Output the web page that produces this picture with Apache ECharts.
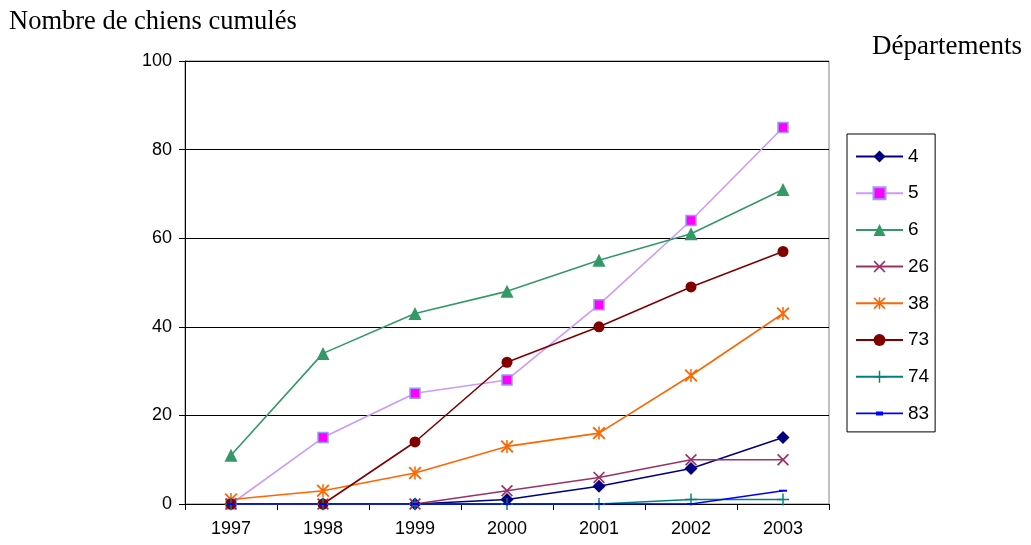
<!DOCTYPE html>
<html>
<head>
<meta charset="utf-8">
<script src="https://cdn.jsdelivr.net/npm/echarts@6/dist/echarts.min.js"></script>
<style>
  html, body { margin: 0; padding: 0; background: #fff; }
  #chart { width: 1031px; height: 545px; }
</style>
</head>
<body>
<div id="chart"></div>
<script>
// Cumulative number of dogs per department, 1997-2003
const years = ['1997', '1998', '1999', '2000', '2001', '2002', '2003'];
const dept4  = [0, 0, 0, 1, 4, 8, 15];
const dept5  = [0, 15, 25, 28, 45, 64, 85];
const dept6  = [11, 34, 43, 48, 55, 61, 71];
const dept26 = [0, 0, 0, 3, 6, 10, 10];
const dept38 = [1, 3, 7, 13, 16, 29, 43];
const dept73 = [0, 0, 14, 32, 40, 49, 57];
const dept74 = [0, 0, 0, 0, 0, 1, 1];
const dept83 = [0, 0, 0, 0, 0, 0, 3];
const seriesNames = ['4', '5', '6', '26', '38', '73', '74', '83'];

// Marker shapes drawn as filled outlines
const crossX = 'path://M0,1 L1,0 L5,4 L9,0 L10,1 L6,5 L10,9 L9,10 L5,6 L1,10 L0,9 L4,5 Z';
const star = 'path://M0,1 L1,0 L5,4 L9,0 L10,1 L6,5 L10,9 L9,10 L5,6 L1,10 L0,9 L4,5 Z M4.4,0 L5.6,0 L5.6,10 L4.4,10 Z';
const plus = 'path://M4.4,0 L5.6,0 L5.6,4.4 L10,4.4 L10,5.6 L5.6,5.6 L5.6,10 L4.4,10 L4.4,5.6 L0,5.6 L0,4.4 L4.4,4.4 Z';
const dash = 'path://M0,0 L10,0 L10,5 L0,5 Z';
// Legend key for the dash marker: a line with a short bar across its middle
const dashKey = 'path://M0,1.2 L47,1.2 L47,2.8 L0,2.8 Z M20,0 L27,0 L27,4 L20,4 Z';

function line(name, data, color, symbol, size, extra) {
  return Object.assign({
    name: name,
    type: 'line',
    data: data,
    symbol: symbol,
    symbolSize: size,
    showAllSymbol: true,
    animation: false,
    lineStyle: { color: color, width: 1.6 },
    itemStyle: { color: color, borderWidth: 0 }
  }, extra || {});
}

const legendData = seriesNames.map(function (n) {
  return n === '83' ? { name: n, icon: dashKey } : { name: n };
});

const chart = echarts.init(document.getElementById('chart'));
chart.setOption({
  backgroundColor: '#ffffff',
  animation: false,
  title: [
    {
      text: 'Nombre de chiens cumulés',
      left: 9, top: 9, padding: 0,
      textStyle: { fontFamily: 'Liberation Serif', fontSize: 26.5, fontWeight: 'normal', color: '#000' }
    },
    {
      text: 'Départements',
      right: 9, top: 33, padding: 0,
      textStyle: { fontFamily: 'Liberation Serif', fontSize: 27, fontWeight: 'normal', color: '#000' }
    }
  ],
  grid: {
    left: 185, right: 202, top: 61, bottom: 41,
    show: true, borderColor: '#808080', borderWidth: 1, backgroundColor: 'transparent'
  },
  legend: {
    data: legendData,
    orient: 'vertical',
    left: 847, top: 134,
    padding: [13, 6, 9, 8],
    itemWidth: 47,
    itemHeight: 15,
    itemGap: 17.7,
    borderColor: '#000',
    borderWidth: 1,
    textStyle: { fontFamily: 'Liberation Sans', fontSize: 19, color: '#000', lineHeight: 18 }
  },
  xAxis: {
    type: 'category',
    data: years,
    boundaryGap: true,
    axisLine: { lineStyle: { color: '#000', width: 1 } },
    axisTick: { show: true, alignWithLabel: false, length: 6, lineStyle: { color: '#000' } },
    axisLabel: { fontFamily: 'Liberation Sans', fontSize: 18, color: '#000', margin: 16 },
    splitLine: { show: false }
  },
  yAxis: {
    type: 'value',
    min: 0, max: 100, interval: 20,
    axisLine: { show: true, lineStyle: { color: '#000', width: 1 } },
    axisTick: { show: true, length: 6, lineStyle: { color: '#000' } },
    axisLabel: { fontFamily: 'Liberation Sans', fontSize: 18, color: '#000', margin: 13 },
    splitLine: { show: true, lineStyle: { color: '#000', width: 1 } }
  },
  series: [
    line('4', dept4, '#000080', 'diamond', 13),
    line('5', dept5, '#CC99FF', 'rect', 10, {
      itemStyle: { color: '#FF00FF', borderColor: '#9999FF', borderWidth: 1.5 }
    }),
    line('6', dept6, '#339966', 'triangle', 13),
    line('26', dept26, '#993366', crossX, 12),
    line('38', dept38, '#FF6600', star, 13),
    line('73', dept73, '#800000', 'circle', 11),
    line('74', dept74, '#008080', plus, 12),
    line('83', dept83, '#0000FF', dash, [8, 4], { symbolKeepAspect: true })
  ]
});
</script>
</body>
</html>
